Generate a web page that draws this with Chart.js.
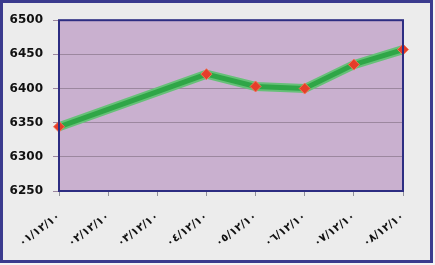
<!DOCTYPE html>
<html lang="ar">

<head>
    <meta charset="UTF-8">
    <title>Chart</title>
    <style>
        body { margin: 0; background: #f4f4f4; }
        #box {
            position: absolute; left: 0; top: 0;
            width: 433px; height: 263px; box-sizing: border-box;
            border: 3px solid #3b3b8e; background: #ececec;
        }
        #myChart { display: block; }
    </style>
</head>

<body>
    <div id="box">
        <canvas id="myChart" width="427" height="257"></canvas>
    </div>

    <script src="https://cdn.jsdelivr.net/npm/chart.js"></script>
    <script>
        // dates on the axis (dd/mm/yy, arabic digits)
        const labels = ['٠١/١٢/١٠', '٠٢/١٢/١٠', '٠٣/١٢/١٠', '٠٤/١٢/١٠', '٠٥/١٢/١٠', '٠٦/١٢/١٠', '٠٧/١٢/١٠', '٠٨/١٢/١٠'];
        // no value on the 2nd and 3rd day, line goes straight over them
        const values = [6344, null, null, 6421, 6403, 6400, 6435, 6457];
        const yTicks = [6250, 6300, 6350, 6400, 6450, 6500];

        // purple plot area + navy frame
        const plotBg = {
            id: 'plotBg',
            beforeDraw(chart) {
                const a = chart.chartArea, c = chart.ctx;
                c.save();
                c.fillStyle = '#c9b0cf';
                c.fillRect(a.left, a.top, a.right - a.left, a.bottom - a.top);
                c.restore();
            },
            afterDatasetsDraw(chart) {
                const a = chart.chartArea, c = chart.ctx;
                c.save();
                c.strokeStyle = '#2d2d82';
                c.lineWidth = 2;
                c.strokeRect(a.left, a.top, a.right - a.left, a.bottom - a.top);
                c.restore();
            }
        };

        const ctx = document.getElementById('myChart').getContext('2d');
        const myChart = new Chart(ctx, {
            type: 'line',
            data: {
                labels: labels,
                datasets: [{
                    // soft outer band of the line
                    data: values,
                    borderColor: '#66c078',
                    borderWidth: 9,
                    pointRadius: 0,
                    spanGaps: true,
                    order: 3
                }, {
                    data: values,
                    borderColor: '#2fa647',
                    borderWidth: 5,
                    pointRadius: 0,
                    spanGaps: true,
                    order: 2
                }, {
                    data: values,
                    showLine: false,
                    pointStyle: 'rectRot',
                    pointRadius: 5.5,
                    pointBackgroundColor: '#e63d2a',
                    pointBorderColor: '#f27458',
                    pointBorderWidth: 1,
                    order: 1
                }]
            },
            options: {
                responsive: false,
                animation: false,
                layout: { padding: { top: 15, right: 27, left: 0, bottom: 0 } },
                plugins: { legend: { display: false }, tooltip: { enabled: false } },
                scales: {
                    x: {
                        offset: false,
                        grid: { drawOnChartArea: false, color: '#8f8f9a', tickLength: 5 },
                        border: { display: false },
                        ticks: {
                            autoSkip: false,
                            minRotation: 37,
                            maxRotation: 37,
                            padding: 14,
                            color: '#111',
                            font: { family: 'DejaVu Sans', size: 11, weight: 'bold' }
                        },
                        afterFit(scale) { scale.height = 69; }
                    },
                    y: {
                        min: 6250,
                        max: 6500,
                        afterBuildTicks(scale) { scale.ticks = yTicks.map(v => ({ value: v })); },
                        grid: { color: '#9c879f', lineWidth: 1, tickLength: 6 },
                        border: { display: false },
                        ticks: {
                            padding: 10,
                            color: '#111',
                            font: { family: 'DejaVu Sans', size: 12, weight: 'bold' },
                            callback: v => String(v)
                        },
                        afterFit(scale) { scale.width = 56; }
                    }
                }
            },
            plugins: [plotBg]
        });
    </script>
</body>

</html>
